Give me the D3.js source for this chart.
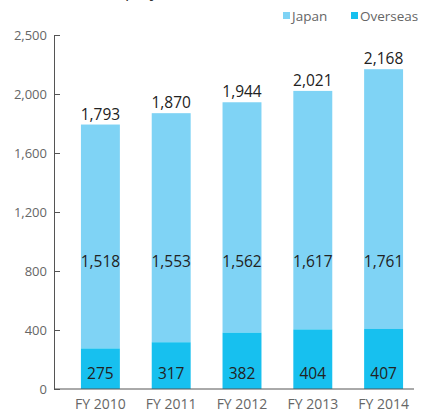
<!DOCTYPE html>
<html>
<head>
<meta charset="utf-8">
<script src="https://cdn.jsdelivr.net/npm/d3@7"></script>
<style>
  body { margin: 0; background: #fff; }
  svg { display: block; font-family: "Open Sans", "Noto Sans", sans-serif; }
</style>
</head>
<body>
<div id="chart"></div>
<script>
// employees by fiscal year
var years = ["FY 2010", "FY 2011", "FY 2012", "FY 2013", "FY 2014"];
var japan = [1518, 1553, 1562, 1617, 1761];
var overseas = [275, 317, 382, 404, 407];
var totals = [1793, 1870, 1944, 2021, 2168];
var yTicks = [0, 400, 800, 1200, 1600, 2000, 2400];
var yTickLabels = ["0", "400", "800", "1,200", "1,600", "2,000", "2,500"];
var legendNames = ["Japan", "Overseas"];

var width = 423, height = 414;
var colJapan = "#7fd3f5", colOverseas = "#17c0ef";
var fmt = d3.format(",");

var svg = d3.select("#chart").append("svg")
    .attr("width", width)
    .attr("height", height);

var x = d3.scaleBand()
    .domain(years)
    .range([65, 419])
    .paddingInner(0.45)
    .paddingOuter(0.225);

var y = d3.scaleLinear()
    .domain([0, 2400])
    .range([389, 35]);

// title, mostly cut off at the top (same as the source image)
svg.append("text")
    .attr("x", 4)
    .attr("y", -3)
    .style("font-size", "17px")
    .style("fill", "#333")
    .text("(Number of employees)");

// y axis
var yAxis = svg.append("g")
    .attr("transform", "translate(54,0)")
    .call(d3.axisLeft(y)
        .tickValues(yTicks)
        .tickFormat(function (d, i) { return yTickLabels[i]; })
        .tickSizeInner(-6)
        .tickSizeOuter(0)
        .tickPadding(7));
yAxis.select(".domain").attr("stroke", "#555");
yAxis.selectAll(".tick line").attr("stroke", "#555");
yAxis.selectAll(".tick text")
    .style("font-size", "13px")
    .style("fill", "#666")
    .style("font-family", "'Open Sans', sans-serif");

// bars
var rows = years.map(function (yr, i) {
    return { year: yr, japan: japan[i], overseas: overseas[i], total: totals[i] };
});

var g = svg.append("g");

g.selectAll(".japan")
    .data(rows)
    .enter()
    .append("rect")
    .attr("class", "japan")
    .attr("x", function (d) { return x(d.year); })
    .attr("y", function (d) { return y(d.total); })
    .attr("width", x.bandwidth())
    .attr("height", function (d) { return y(d.overseas) - y(d.total); })
    .style("fill", colJapan);

g.selectAll(".overseas")
    .data(rows)
    .enter()
    .append("rect")
    .attr("class", "overseas")
    .attr("x", function (d) { return x(d.year); })
    .attr("y", function (d) { return y(d.overseas); })
    .attr("width", x.bandwidth())
    .attr("height", function (d) { return y(0) - y(d.overseas); })
    .style("fill", colOverseas);

// x axis line
svg.append("line")
    .attr("x1", 54).attr("x2", 414)
    .attr("y1", y(0)).attr("y2", y(0))
    .attr("stroke", "#555");

// labels
function label(cls, yFn, textFn) {
    g.selectAll("." + cls)
        .data(rows)
        .enter()
        .append("text")
        .attr("class", cls)
        .attr("x", function (d) { return x(d.year) + x.bandwidth() / 2; })
        .attr("y", yFn)
        .attr("text-anchor", "middle")
        .style("font-size", "15.5px")
        .style("fill", "#222")
        .text(textFn);
}
label("tot", function (d) { return y(d.total) - 5; }, function (d) { return fmt(d.total); });
label("jp", function () { return y(830); }, function (d) { return fmt(d.japan); });
label("os", function () { return y(70); }, function (d) { return fmt(d.overseas); });

svg.selectAll(".xlab")
    .data(years)
    .enter()
    .append("text")
    .attr("class", "xlab")
    .attr("x", function (d) { return x(d) + x.bandwidth() / 2; })
    .attr("y", 409)
    .attr("text-anchor", "middle")
    .style("font-size", "14px")
    .style("fill", "#666")
    .text(function (d) { return d; });

// legend
var legend = svg.append("g");
var lx = [283, 351];
legendNames.forEach(function (name, i) {
    legend.append("rect")
        .attr("x", lx[i]).attr("y", 12)
        .attr("width", 7).attr("height", 7)
        .style("fill", i === 0 ? colJapan : colOverseas);
    legend.append("text")
        .attr("x", lx[i] + 9).attr("y", 20.5)
        .style("font-size", "13.5px")
        .style("fill", "#666")
        .text(name);
});
</script>
</body>
</html>
